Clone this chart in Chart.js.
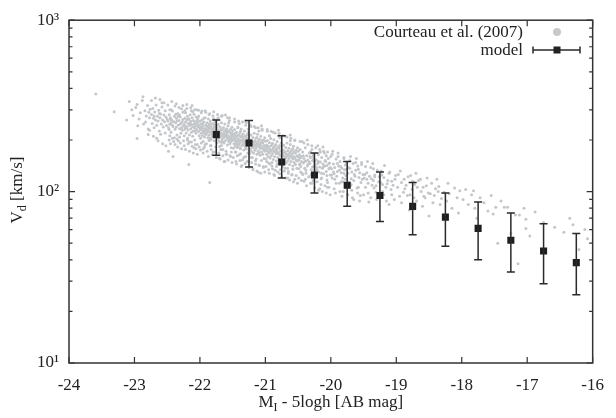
<!DOCTYPE html>
<html>
<head>
<meta charset="utf-8">
<script src="https://cdn.jsdelivr.net/npm/chart.js@4.4.1/dist/chart.umd.min.js"></script>
<style>
  html, body { margin: 0; padding: 0; background: #fff; }
  canvas { display: block; }
</style>
</head>
<body>
<canvas id="tf" width="616" height="418"></canvas>
<script>
// model: bin centres, median Vd and 1-sigma range
const modelMag = [-21.75, -21.25, -20.75, -20.25, -19.75, -19.25, -18.75, -18.25, -17.75, -17.25, -16.75, -16.25];
const modelVel = [215, 192, 149, 125, 109, 95, 82, 71, 61, 52, 45, 38.5];
const modelHigh = [262, 260, 212, 168, 150, 130, 113, 98, 87, 75, 65, 57];
const modelLow = [163, 139, 120, 98, 82, 67, 56, 48, 40, 34, 29, 25];

const xTicks = [-24, -23, -22, -21, -20, -19, -18, -17, -16];
const yMajor = [10, 100, 1000];
const yTickLabels = ['10\u00b9', '10\u00b2', '10\u00b3'];
const yMinor = [20, 30, 40, 50, 60, 70, 80, 90, 200, 300, 400, 500, 600, 700, 800, 900];

// Courteau et al. (2007) sample: [M_I - 5logh, Vd]
const courteau = [
  [-23.59,371],[-23.31,292],[-23.08,335],[-23.12,262],[-23.04,300],[-22.96,204],[-22.96,322],[-23.02,278],
  [-22.98,310],[-22.93,265],[-22.91,288],[-22.87,358],[-22.86,248],[-22.84,296],[-22.82,276],[-22.80,318],[-22.79,232],[-22.77,270],[-22.76,302],[-22.88,340],[-22.83,255],[-22.78,290],[-22.95,242],
  [-22.74,282],[-22.73,250],[-22.72,305],[-22.71,268],[-22.70,236],[-22.69,291],[-22.68,262],[-22.67,320],[-22.66,244],[-22.65,275],[-22.64,258],[-22.63,298],[-22.62,226],[-22.61,270],[-22.60,284],[-22.59,248],[-22.58,312],[-22.57,262],[-22.56,238],[-22.55,280],[-22.54,256],[-22.53,296],[-22.52,272],[-22.51,243],[-22.50,265],[-22.66,205],[-22.58,330],[-22.62,286],[-22.53,220],[-22.70,276],
  [-22.49,258],[-22.48,236],[-22.47,281],[-22.46,247],[-22.45,270],[-22.44,222],[-22.43,262],[-22.42,295],[-22.41,240],[-22.40,256],[-22.39,275],[-22.38,231],[-22.37,252],[-22.36,268],[-22.35,214],[-22.34,286],[-22.33,245],[-22.32,260],[-22.31,233],[-22.30,272],[-22.29,250],[-22.28,304],[-22.27,228],[-22.26,263],[-22.25,241],[-22.48,172],[-22.41,160],[-22.46,300],[-22.38,316],[-22.33,198],[-22.29,219],[-22.44,253],[-22.36,238],[-22.31,280],[-22.27,255],[-22.42,244],[-22.35,259],[-22.47,230],[-22.26,290],[-22.39,206],[-22.30,247],[-22.45,264],[-22.33,275],[-22.28,236],[-22.37,283],
  [-22.24,246],[-22.24,212],[-22.23,268],[-22.23,231],[-22.22,255],[-22.22,288],[-22.21,240],[-22.21,220],[-22.20,262],[-22.20,236],[-22.19,275],[-22.19,205],[-22.18,250],[-22.18,229],[-22.17,144],[-22.17,266],[-22.16,243],[-22.16,214],[-22.15,281],[-22.15,252],[-22.14,233],[-22.14,258],[-22.13,222],[-22.13,296],[-22.12,245],[-22.12,270],[-22.11,238],[-22.11,210],[-22.10,260],[-22.10,226],[-22.09,249],[-22.09,283],[-22.08,235],[-22.08,200],[-22.07,256],[-22.07,241],[-22.06,272],[-22.06,219],[-22.05,247],[-22.05,230],[-22.04,262],[-22.04,188],[-22.03,239],[-22.03,253],[-22.02,224],[-22.02,276],[-22.01,244],[-22.01,212],[-22.00,258],[-22.00,234],[-22.20,305],[-22.12,318],[-22.05,300],[-22.16,195],[-22.09,180],[-22.22,236],[-22.14,248],[-22.07,226],[-22.18,263],[-22.03,269],
  [-21.99,230],[-21.99,205],[-21.98,248],[-21.98,219],[-21.97,236],[-21.97,262],[-21.96,212],[-21.96,227],[-21.95,241],[-21.95,196],[-21.94,255],[-21.94,222],[-21.93,233],[-21.93,208],[-21.92,270],[-21.92,226],[-21.91,245],[-21.91,215],[-21.90,231],[-21.90,190],[-21.89,252],[-21.89,220],[-21.88,238],[-21.88,206],[-21.87,265],[-21.87,229],[-21.86,244],[-21.86,213],[-21.85,113],[-21.85,234],[-21.84,222],[-21.84,258],[-21.83,201],[-21.83,240],[-21.82,226],[-21.82,217],[-21.81,249],[-21.81,231],[-21.80,210],[-21.80,276],[-21.79,236],[-21.79,220],[-21.78,243],[-21.78,198],[-21.77,228],[-21.77,254],[-21.76,214],[-21.76,237],[-21.75,224],[-21.75,262],[-21.98,288],[-21.92,296],[-21.86,282],[-21.80,170],[-21.95,178],[-21.83,186],[-21.90,242],[-21.84,205],[-21.78,230],[-21.96,250],[-21.88,224],[-21.81,211],[-21.93,218],[-21.77,245],[-21.99,237],[-21.86,199],[-21.79,266],[-21.91,233],[-21.85,250],[-21.76,219],
  [-21.74,215],[-21.74,192],[-21.73,230],[-21.73,204],[-21.72,221],[-21.72,246],[-21.71,198],[-21.71,212],[-21.70,226],[-21.70,183],[-21.69,238],[-21.69,207],[-21.68,218],[-21.68,194],[-21.67,252],[-21.67,211],[-21.66,229],[-21.66,201],[-21.65,216],[-21.65,176],[-21.64,236],[-21.64,206],[-21.63,223],[-21.63,192],[-21.62,248],[-21.62,214],[-21.61,228],[-21.61,199],[-21.60,210],[-21.60,165],[-21.59,233],[-21.59,219],[-21.58,187],[-21.58,205],[-21.57,242],[-21.57,212],[-21.56,196],[-21.56,225],[-21.55,208],[-21.55,260],[-21.54,221],[-21.54,190],[-21.53,231],[-21.53,203],[-21.52,214],[-21.52,180],[-21.51,237],[-21.51,199],[-21.50,211],[-21.50,226],[-21.72,270],[-21.66,278],[-21.58,270],[-21.70,156],[-21.62,150],[-21.54,162],[-21.68,230],[-21.61,216],[-21.56,201],[-21.73,218],[-21.65,194],[-21.59,224],[-21.52,206],[-21.74,239],[-21.67,186],[-21.63,209],[-21.57,226],[-21.53,196],[-21.69,221],[-21.51,218],
  [-21.49,201],[-21.49,179],[-21.48,215],[-21.48,190],[-21.47,206],[-21.47,230],[-21.46,184],[-21.46,198],[-21.45,211],[-21.45,170],[-21.44,222],[-21.44,193],[-21.43,204],[-21.43,181],[-21.42,236],[-21.42,197],[-21.41,213],[-21.41,188],[-21.40,201],[-21.40,164],[-21.39,220],[-21.39,192],[-21.38,208],[-21.38,178],[-21.37,232],[-21.37,199],[-21.36,212],[-21.36,186],[-21.35,196],[-21.35,153],[-21.34,217],[-21.34,204],[-21.33,175],[-21.33,191],[-21.32,226],[-21.32,198],[-21.31,183],[-21.31,210],[-21.30,194],[-21.30,244],[-21.29,206],[-21.29,177],[-21.28,215],[-21.28,189],[-21.27,200],[-21.27,168],[-21.26,221],[-21.26,185],[-21.25,197],[-21.25,211],[-21.47,255],[-21.40,250],[-21.31,258],[-21.44,145],[-21.36,142],[-21.28,150],[-21.48,203],[-21.42,186],[-21.35,209],[-21.29,193],[-21.46,219],[-21.39,180],[-21.33,201],[-21.27,214],[-21.45,190],[-21.38,225],[-21.30,181],[-21.26,203],[-21.43,212],[-21.34,188],
  [-21.24,188],[-21.24,166],[-21.23,200],[-21.23,177],[-21.22,192],[-21.22,214],[-21.21,171],[-21.21,185],[-21.20,196],[-21.20,158],[-21.19,207],[-21.19,180],[-21.18,190],[-21.18,168],[-21.17,219],[-21.17,184],[-21.16,198],[-21.16,174],[-21.15,187],[-21.15,152],[-21.14,205],[-21.14,179],[-21.13,193],[-21.13,165],[-21.12,216],[-21.12,186],[-21.11,197],[-21.11,172],[-21.10,183],[-21.10,143],[-21.09,202],[-21.09,190],[-21.08,163],[-21.08,178],[-21.07,210],[-21.07,184],[-21.06,170],[-21.06,195],[-21.05,181],[-21.05,228],[-21.04,192],[-21.04,165],[-21.03,200],[-21.03,176],[-21.02,186],[-21.02,156],[-21.01,206],[-21.01,172],[-21.00,183],[-21.00,197],[-21.22,240],[-21.15,236],[-21.06,242],[-21.19,134],[-21.11,130],[-21.03,138],[-21.20,182],[-21.13,207],[-21.08,189],[-21.02,178],[-21.23,175],[-21.17,194],[-21.10,168],[-21.05,199],[-21.14,186],
  [-20.99,175],[-20.99,155],[-20.98,187],[-20.98,165],[-20.97,179],[-20.97,199],[-20.96,160],[-20.96,172],[-20.95,183],[-20.95,147],[-20.94,193],[-20.94,168],[-20.93,177],[-20.93,157],[-20.92,204],[-20.92,172],[-20.91,185],[-20.91,162],[-20.90,174],[-20.90,141],[-20.89,191],[-20.89,167],[-20.88,180],[-20.88,154],[-20.87,201],[-20.87,173],[-20.86,184],[-20.86,160],[-20.85,170],[-20.85,133],[-20.84,188],[-20.84,177],[-20.83,151],[-20.83,166],[-20.82,196],[-20.82,171],[-20.81,158],[-20.81,182],[-20.80,168],[-20.80,212],[-20.79,179],[-20.79,154],[-20.78,186],[-20.78,164],[-20.77,173],[-20.77,146],[-20.76,192],[-20.76,161],[-20.75,170],[-20.75,184],[-20.97,225],[-20.88,222],[-20.80,228],[-20.94,128],[-20.86,124],[-20.78,127],[-20.95,170],[-20.90,190],[-20.83,176],[-20.79,166],
  [-20.74,164],[-20.74,145],[-20.73,175],[-20.73,154],[-20.72,168],[-20.72,187],[-20.71,150],[-20.71,161],[-20.70,171],[-20.70,137],[-20.69,181],[-20.69,157],[-20.68,166],[-20.68,147],[-20.67,192],[-20.67,161],[-20.66,173],[-20.66,151],[-20.65,163],[-20.65,131],[-20.64,179],[-20.64,156],[-20.63,168],[-20.63,144],[-20.62,188],[-20.62,162],[-20.61,172],[-20.61,150],[-20.60,159],[-20.60,125],[-20.59,176],[-20.59,166],[-20.58,141],[-20.58,155],[-20.57,184],[-20.57,160],[-20.56,148],[-20.56,170],[-20.55,157],[-20.55,199],[-20.54,168],[-20.54,144],[-20.53,174],[-20.53,153],[-20.52,162],[-20.52,137],[-20.51,180],[-20.51,151],[-20.50,159],[-20.50,172],[-20.70,210],[-20.62,214],[-20.55,118],[-20.66,120],[-20.58,178],
  [-20.49,153],[-20.49,136],[-20.48,164],[-20.48,144],[-20.47,157],[-20.47,176],[-20.46,140],[-20.45,150],[-20.45,160],[-20.44,128],[-20.43,170],[-20.42,147],[-20.41,156],[-20.40,137],[-20.39,180],[-20.38,151],[-20.37,162],[-20.36,141],[-20.35,153],[-20.34,122],[-20.33,168],[-20.32,146],[-20.31,158],[-20.30,134],[-20.29,176],[-20.28,152],[-20.27,161],[-20.26,140],[-20.25,149],[-20.44,196],[-20.36,200],[-20.29,112],[-20.41,115],[-20.33,149],[-20.27,165],[-20.46,158],[-20.38,133],[-20.31,171],[-20.42,162],[-20.35,144],[-20.28,139],[-20.40,150],[-20.47,145],[-20.26,156],[-20.32,160],
  [-20.24,143],[-20.23,127],[-20.22,153],[-20.21,134],[-20.20,146],[-20.19,164],[-20.18,130],[-20.17,139],[-20.16,149],[-20.15,119],[-20.14,158],[-20.13,137],[-20.12,145],[-20.11,127],[-20.10,168],[-20.09,141],[-20.08,150],[-20.07,131],[-20.06,142],[-20.05,113],[-20.04,156],[-20.03,136],[-20.02,147],[-20.01,125],[-20.00,160],[-20.20,185],[-20.12,182],[-20.05,106],[-20.17,104],[-20.09,152],[-20.22,138],[-20.14,128],[-20.03,146],[-20.19,150],[-20.07,162],[-20.11,140],[-20.24,133],[-20.01,138],[-20.16,170],[-20.06,124],
  [-19.99,136],[-19.98,120],[-19.96,145],[-19.95,127],[-19.94,138],[-19.92,155],[-19.91,123],[-19.90,131],[-19.88,141],[-19.87,112],[-19.86,150],[-19.84,129],[-19.83,137],[-19.82,120],[-19.80,158],[-19.79,134],[-19.78,143],[-19.77,124],[-19.76,135],[-19.97,172],[-19.89,168],[-19.81,100],[-19.93,98],[-19.85,140],[-19.78,118],[-19.96,130],[-19.90,146],[-19.84,114],[-19.76,148],[-19.99,125],[-19.87,133],[-19.80,128],
  [-19.74,128],[-19.72,113],[-19.71,137],[-19.69,119],[-19.68,130],[-19.66,146],[-19.65,116],[-19.63,123],[-19.62,133],[-19.60,105],[-19.59,141],[-19.57,121],[-19.56,129],[-19.54,113],[-19.53,148],[-19.51,126],[-19.70,160],[-19.61,156],[-19.55,95],[-19.67,92],[-19.73,138],[-19.64,126],[-19.58,135],[-19.52,118],[-19.69,110],
  [-19.49,120],[-19.47,106],[-19.45,129],[-19.43,112],[-19.41,123],[-19.39,138],[-19.37,109],[-19.35,116],[-19.33,125],[-19.31,99],[-19.29,133],[-19.27,114],[-19.44,150],[-19.36,146],[-19.30,90],[-19.42,87],[-19.48,126],[-19.38,119],[-19.26,122],[-19.34,105],
  [-19.24,113],[-19.21,100],[-19.19,121],[-19.16,106],[-19.13,116],[-19.10,130],[-19.08,103],[-19.05,109],[-19.02,118],[-19.18,142],[-19.11,84],[-19.22,125],[-19.07,96],[-19.14,111],[-19.01,124],
  [-18.98,106],[-18.95,94],[-18.92,113],[-18.89,99],[-18.85,109],[-18.82,122],[-18.79,96],[-18.76,103],[-18.72,110],[-18.69,88],[-18.66,116],[-18.62,100],[-18.59,106],[-18.56,92],[-18.53,120],[-18.94,132],[-18.80,78],[-18.70,128],[-18.60,82],[-18.87,104],[-18.75,115],[-18.51,98],
  [-18.48,97],[-18.44,86],[-18.40,104],[-18.35,107],[-18.31,91],[-18.27,99],[-18.23,88],[-18.19,97],[-18.15,80],[-18.11,105],[-18.07,92],[-18.03,101],[-18.50,72],[-18.38,118],[-18.21,112],
  [-18.05,75],[-17.98,90],[-17.94,103],[-17.90,84],[-17.85,96],[-17.82,101],[-17.80,80],[-17.77,70],[-17.72,92],[-17.66,86],[-17.60,77],[-17.55,95],[-17.52,74],
  [-17.48,81],[-17.45,50],[-17.40,88],[-17.35,81],[-17.30,81],[-17.25,57],[-17.18,73],[-17.14,38],[-17.12,73],[-17.02,69],[-17.02,61],[-17.05,80],
  [-16.96,55],[-16.88,76],[-16.75,66],[-16.58,62],[-16.44,58],[-16.35,70],[-16.21,46],[-16.08,53],[-16.30,64],[-16.12,60],
  // wider wings of the cloud
  [-22.79,215],[-22.74,340],[-22.71,210],[-22.68,352],[-22.64,198],[-22.61,345],[-22.57,190],[-22.55,330],[-22.52,185],[-22.77,228],[-22.60,216],
  [-22.49,320],[-22.47,200],[-22.45,190],[-22.43,335],[-22.40,196],[-22.38,188],[-22.36,325],[-22.34,182],[-22.32,310],[-22.30,192],[-22.28,178],[-22.26,318],[-22.24,185],[-22.22,176],[-22.20,322],[-22.18,190],[-22.16,172],[-22.14,308],[-22.12,184],[-22.10,168],[-22.08,300],[-22.06,178],[-22.04,165],[-22.02,298],[-22.46,212],[-22.42,205],[-22.35,203],[-22.31,208],[-22.25,198],[-22.19,200],[-22.13,195],[-22.07,188],[-22.01,182],[-22.44,300],[-22.23,296],[-22.11,292],
  [-21.99,175],[-21.97,295],[-21.95,168],[-21.93,182],[-21.91,290],[-21.89,172],[-21.87,160],[-21.85,285],[-21.83,176],[-21.81,164],[-21.79,292],[-21.77,170],[-21.75,158],[-21.73,282],[-21.71,168],[-21.69,155],[-21.67,275],[-21.65,162],[-21.63,150],[-21.61,280],[-21.59,165],[-21.57,153],[-21.55,270],[-21.53,160],[-21.51,148],[-21.98,192],[-21.92,188],[-21.84,185],[-21.76,182],[-21.68,176],[-21.60,172],[-21.52,170],[-21.94,268],[-21.74,262],[-21.56,252],
  [-21.49,158],[-21.47,265],[-21.45,150],[-21.43,162],[-21.41,258],[-21.39,152],[-21.37,140],[-21.35,255],[-21.33,158],[-21.31,146],[-21.29,252],[-21.27,150],[-21.25,138],[-21.23,245],[-21.21,148],[-21.19,136],[-21.17,240],[-21.15,145],[-21.13,132],[-21.11,236],[-21.09,142],[-21.07,128],[-21.05,232],[-21.03,140],[-21.01,130],[-21.46,170],[-21.38,166],[-21.30,160],[-21.22,158],[-21.14,155],[-21.06,152],[-21.42,238],[-21.26,232],[-21.10,226],
  [-20.99,140],[-20.97,230],[-20.95,134],[-20.93,145],[-20.91,225],[-20.89,136],[-20.87,126],[-20.85,220],[-20.83,140],[-20.81,130],[-20.79,218],[-20.77,134],[-20.75,122],[-20.73,212],[-20.71,132],[-20.69,120],[-20.67,208],[-20.65,128],[-20.63,117],[-20.61,205],[-20.59,126],[-20.57,114],[-20.55,200],[-20.53,124],[-20.51,112],[-20.98,150],[-20.90,148],[-20.82,145],[-20.74,140],[-20.66,137],[-20.58,135],[-20.94,212],[-20.78,206],[-20.62,198],
  [-20.49,120],[-20.47,196],[-20.45,116],[-20.43,126],[-20.41,192],[-20.39,118],[-20.37,108],[-20.35,188],[-20.33,122],[-20.31,112],[-20.29,185],[-20.27,116],[-20.25,105],[-20.23,180],[-20.21,114],[-20.19,102],[-20.17,176],[-20.15,110],[-20.13,100],[-20.11,172],[-20.09,108],[-20.07,98],[-20.05,170],[-20.03,106],[-20.01,96],[-20.46,130],[-20.38,128],[-20.30,126],[-20.22,122],[-20.14,120],[-20.06,117],
  [-19.98,165],[-19.95,104],[-19.92,112],[-19.89,160],[-19.86,100],[-19.83,94],[-19.80,156],[-19.77,106],[-19.74,96],[-19.71,152],[-19.68,102],[-19.65,90],[-19.62,148],[-19.59,98],[-19.56,88],[-19.53,144],[-19.50,96],[-19.94,118],[-19.82,114],[-19.70,108],[-19.58,106],
  [-19.47,140],[-19.43,98],[-19.39,92],[-19.35,136],[-19.31,108],[-19.27,94],[-19.23,132],[-19.19,96],[-19.15,88],[-19.11,128],[-19.07,115],[-19.03,90],[-19.45,118],[-19.33,122],[-19.21,110],
  [-18.97,126],[-18.92,86],[-18.88,118],[-18.83,95],[-18.78,124],[-18.73,92],[-18.68,106],[-18.63,118],[-18.58,94],[-18.54,108],[-18.46,112],[-18.42,95],[-18.36,100],[-18.33,84]
];

const SERIF = "'Liberation Serif', 'DejaVu Serif', serif";
const INK = '#222';
const FS = 17;

Chart.defaults.font.family = SERIF;
Chart.defaults.color = INK;

// frame, inward ticks, error bars, legend and axis titles (gnuplot look)
const decor = {
  id: 'decor',
  afterDatasetsDraw(chart) {
    const { ctx, scales: { x, y } } = chart;
    ctx.save();
    ctx.strokeStyle = '#2a2a2a';
    ctx.lineWidth = 1.5;
    modelMag.forEach((m, i) => {
      const px = x.getPixelForValue(m);
      const hi = y.getPixelForValue(modelHigh[i]);
      const lo = y.getPixelForValue(modelLow[i]);
      ctx.beginPath();
      ctx.moveTo(px, hi); ctx.lineTo(px, lo);
      ctx.moveTo(px - 4, hi); ctx.lineTo(px + 4, hi);
      ctx.moveTo(px - 4, lo); ctx.lineTo(px + 4, lo);
      ctx.stroke();
    });
    ctx.restore();
  },
  afterDraw(chart) {
    const { ctx, chartArea: a, scales: { x, y } } = chart;
    ctx.save();
    ctx.strokeStyle = '#333';
    ctx.lineWidth = 1.5;
    ctx.strokeRect(a.left, a.top, a.right - a.left, a.bottom - a.top);

    ctx.lineWidth = 1.2;
    ctx.beginPath();
    xTicks.forEach((t) => {
      const px = x.getPixelForValue(t);
      ctx.moveTo(px, a.bottom); ctx.lineTo(px, a.bottom - 6);
      ctx.moveTo(px, a.top); ctx.lineTo(px, a.top + 6);
    });
    yMajor.forEach((t) => {
      const py = y.getPixelForValue(t);
      ctx.moveTo(a.left, py); ctx.lineTo(a.left + 6, py);
      ctx.moveTo(a.right, py); ctx.lineTo(a.right - 6, py);
    });
    yMinor.forEach((t) => {
      const py = y.getPixelForValue(t);
      ctx.moveTo(a.left, py); ctx.lineTo(a.left + 3.5, py);
      ctx.moveTo(a.right, py); ctx.lineTo(a.right - 3.5, py);
    });
    ctx.stroke();

    // legend
    const big = FS + 'px ' + SERIF;
    const small = '12px ' + SERIF;
    ctx.fillStyle = INK;
    ctx.font = big;
    ctx.textAlign = 'right';
    ctx.textBaseline = 'middle';
    ctx.fillText('Courteau et al. (2007)', 523, 33);
    ctx.fillText('model', 523, 51);
    ctx.fillStyle = '#c6c9cc';
    ctx.beginPath();
    ctx.arc(557, 32, 4, 0, Math.PI * 2);
    ctx.fill();
    ctx.strokeStyle = '#2a2a2a';
    ctx.lineWidth = 1.5;
    ctx.beginPath();
    ctx.moveTo(533, 50); ctx.lineTo(580, 50);
    ctx.moveTo(533, 46.5); ctx.lineTo(533, 53.5);
    ctx.moveTo(580, 46.5); ctx.lineTo(580, 53.5);
    ctx.stroke();
    ctx.fillStyle = INK;
    ctx.fillRect(553.5, 46.5, 7, 7);

    // x title: M_I - 5logh [AB mag]
    ctx.textAlign = 'left';
    ctx.textBaseline = 'alphabetic';
    ctx.font = big;
    const wM = ctx.measureText('M').width;
    const rest = ' - 5logh [AB mag]';
    const wR = ctx.measureText(rest).width;
    ctx.font = small;
    const wI = ctx.measureText('I').width;
    let sx = (a.left + a.right) / 2 - (wM + wI + wR) / 2;
    const by = 407;
    ctx.font = big; ctx.fillText('M', sx, by);
    ctx.font = small; ctx.fillText('I', sx + wM, by + 4);
    ctx.font = big; ctx.fillText(rest, sx + wM + wI, by);

    // y title: V_d [km/s]
    ctx.translate(22, 190);
    ctx.rotate(-Math.PI / 2);
    ctx.font = big;
    const wV = ctx.measureText('V').width;
    const restY = ' [km/s]';
    const wRY = ctx.measureText(restY).width;
    ctx.font = small;
    const wd = ctx.measureText('d').width;
    sx = -(wV + wd + wRY) / 2;
    ctx.font = big; ctx.fillText('V', sx, 0);
    ctx.font = small; ctx.fillText('d', sx + wV, 4);
    ctx.font = big; ctx.fillText(restY, sx + wV + wd, 0);
    ctx.restore();
  },
};

new Chart(document.getElementById('tf'), {
  type: 'scatter',
  data: {
    datasets: [
      {
        label: 'model',
        data: modelMag.map((m, i) => ({ x: m, y: modelVel[i] })),
        pointStyle: 'rect',
        pointRadius: 5,
        backgroundColor: '#1e1e1e',
        borderColor: '#1e1e1e',
        borderWidth: 0,
      },
      {
        label: 'Courteau et al. (2007)',
        data: courteau.map(([m, v]) => ({ x: m, y: v })),
        pointRadius: 1.5,
        backgroundColor: '#c4c7ca',
        borderWidth: 0,
      },
    ],
  },
  options: {
    responsive: false,
    animation: false,
    devicePixelRatio: 1,
    events: [],
    layout: { padding: { left: 0, top: 18, right: 14, bottom: 0 } },
    plugins: { legend: { display: false }, tooltip: { enabled: false } },
    scales: {
      x: {
        type: 'linear',
        min: -24,
        max: -16,
        grid: { display: false, drawTicks: false },
        border: { display: false },
        afterBuildTicks: (s) => { s.ticks = xTicks.map((v) => ({ value: v })); },
        afterFit: (s) => { s.height = 55; },
        ticks: {
          padding: 12,
          font: { size: FS },
          color: INK,
          maxRotation: 0,
          callback: (v) => String(v),
        },
      },
      y: {
        type: 'logarithmic',
        min: 10,
        max: 1000,
        grid: { display: false, drawTicks: false },
        border: { display: false },
        afterBuildTicks: (s) => { s.ticks = yMajor.map((v) => ({ value: v })); },
        afterFit: (s) => { s.width = 69; },
        ticks: {
          padding: 10,
          font: { size: FS },
          color: INK,
          callback: (v) => yTickLabels[yMajor.indexOf(v)],
        },
      },
    },
  },
  plugins: [decor],
});
</script>
</body>
</html>
